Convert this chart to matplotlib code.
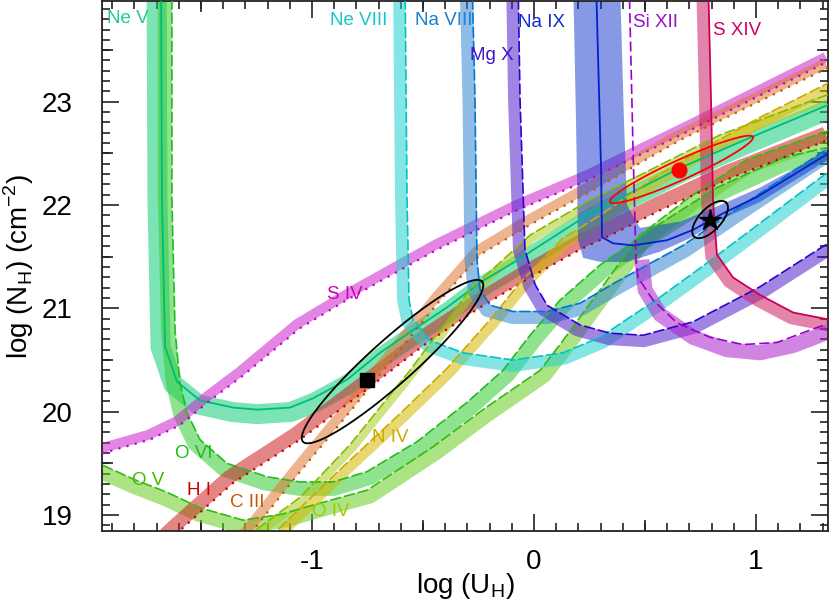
import numpy as np
import matplotlib
matplotlib.use('Agg')
import matplotlib.pyplot as plt
from matplotlib.ticker import MultipleLocator

plt.rcParams['font.family'] = ['Liberation Sans', 'DejaVu Sans']
plt.rcParams['axes.unicode_minus'] = False
plt.rcParams['mathtext.fontset'] = 'custom'
plt.rcParams['mathtext.rm'] = 'Liberation Sans'

# ---- curves: log U_H vs log N_H (line on one edge of each band) ----
ne5_u = [-1.680, -1.676, -1.662, -1.608, -1.505, -1.356, -1.248, -1.099, -0.995, -0.842,
         -0.694, -0.545, -0.392, -0.243, -0.095, 0.252, 0.658, 0.959, 1.324]
ne5_n = [24.18, 22.05, 20.63, 20.29, 20.11, 20.04, 20.02, 20.04, 20.13, 20.31,
         20.57, 20.79, 21.01, 21.25, 21.44, 21.92, 22.36, 22.64, 22.97]

o6_u = [-1.631, -1.631, -1.617, -1.595, -1.563, -1.505, -1.383, -1.203, -1.054, -0.905, -0.752,
        -0.527, -0.302, -0.140, -0.018, 0.117, 0.297, 0.523, 0.824, 1.122, 1.324]
o6_n = [24.18, 22.05, 20.79, 20.28, 19.99, 19.73, 19.50, 19.37, 19.32, 19.32, 19.42,
        19.71, 20.09, 20.40, 20.74, 21.08, 21.42, 21.76, 22.17, 22.46, 22.56]

o5_u = [-1.941, -1.797, -1.653, -1.505, -1.311, -1.131, -1.054, -0.905, -0.752, -0.455,
        -0.230, 0.027, 0.117, 0.297, 0.477, 0.703, 0.959, 1.324]
o5_n = [19.48, 19.34, 19.22, 19.07, 18.95, 19.01, 19.06, 19.15, 19.24, 19.66,
        20.02, 20.40, 20.65, 21.18, 21.71, 22.08, 22.44, 22.72]

h1_u = [-1.640, -1.595, -1.356, -1.054, -0.739, -0.468, -0.243, -0.018, 0.207, 0.374,
        0.568, 0.883, 1.324]
h1_n = [18.76, 18.85, 19.31, 19.73, 20.24, 20.69, 21.01, 21.30, 21.57, 21.74,
        21.95, 22.26, 22.63]

c3_u = [-1.324, -1.266, -1.054, -0.829, -0.604, -0.423, -0.243, -0.018, 0.252, 0.658, 0.973, 1.324]
c3_n = [18.71, 18.85, 19.42, 20.00, 20.60, 21.08, 21.52, 21.81, 22.13, 22.63, 22.96, 23.33]

s4_u = [-1.941, -1.730, -1.595, -1.459, -1.311, -1.054, -0.829, -0.437, -0.077, 0.252, 0.689, 1.324]
s4_n = [19.60, 19.73, 19.87, 20.11, 20.35, 20.81, 21.10, 21.57, 21.95, 22.25, 22.71, 23.39]

n4_u = [-1.189, -1.158, -0.874, -0.604, -0.392, -0.198, -0.063, 0.131, 0.297, 0.523, 0.748, 1.018, 1.324]
n4_n = [18.76, 18.85, 19.44, 19.98, 20.42, 20.89, 21.25, 21.68, 21.90, 22.24, 22.53, 22.85, 23.18]

o4_u = [-1.288, -1.257, -1.054, -0.829, -0.559, -0.288, -0.018, 0.252, 0.523, 0.838, 1.324]
o4_n = [18.76, 18.85, 19.17, 19.68, 20.40, 21.18, 21.71, 22.05, 22.34, 22.68, 23.07]

ne8_u = [-0.581, -0.572, -0.563, -0.545, -0.468, -0.320, -0.095, 0.131, 0.297, 0.568, 0.748, 0.959, 1.324]
ne8_n = [24.18, 22.05, 21.08, 20.89, 20.69, 20.57, 20.50, 20.57, 20.72, 21.11, 21.39, 21.73, 22.32]

na8_u = [-0.279, -0.266, -0.257, -0.243, -0.198, -0.095, 0.059, 0.207, 0.374, 0.671, 0.973, 1.324]
na8_n = [24.18, 23.02, 21.47, 21.18, 21.03, 20.97, 20.97, 21.05, 21.26, 21.61, 22.05, 22.55]

mg10_u = [-0.072, -0.063, -0.041, 0.005, 0.059, 0.207, 0.342, 0.491, 0.716, 1.018, 1.324]
mg10_n = [24.18, 23.02, 21.57, 21.23, 21.03, 20.84, 20.76, 20.74, 20.87, 21.21, 21.63]

na9_u = [0.279, 0.302, 0.306, 0.356, 0.446, 0.599, 0.716, 0.851, 1.005, 1.333]
na9_n = [24.18, 22.34, 21.69, 21.63, 21.61, 21.66, 21.76, 21.92, 22.08, 22.51]
na9_band_u = [0.387, 0.405, 0.419, 0.477, 0.658, 0.838, 1.018, 1.324, 1.324, 1.018, 0.838,
              0.703, 0.568, 0.419, 0.297, 0.221, 0.198, 0.189, 0.176]
na9_band_n = [24.18, 22.82, 22.00, 21.78, 21.84, 22.00, 22.17, 22.53, 22.44, 22.03, 21.86,
              21.68, 21.55, 21.45, 21.45, 21.49, 21.66, 22.82, 24.18]

si12_u = [0.428, 0.446, 0.459, 0.468, 0.536, 0.644, 0.793, 0.941, 1.095, 1.243, 1.333]
si12_n = [24.18, 22.53, 21.47, 21.30, 21.08, 20.86, 20.72, 20.65, 20.67, 20.79, 20.86]
si12_band_u = [0.486, 0.500, 0.568, 0.716, 0.869, 1.018, 1.167, 1.324]
si12_band_n = [21.47, 21.18, 20.94, 20.72, 20.60, 20.57, 20.64, 20.77]

s14_u = [0.784, 0.797, 0.806, 0.815, 0.824, 0.896, 1.018, 1.167, 1.333]
s14_n = [24.18, 23.02, 22.05, 21.76, 21.52, 21.30, 21.13, 20.96, 20.89]

# observed components and their error contours
comp_u = [-0.752, 0.653, 0.793]
comp_n = [20.31, 22.34, 21.86]
ell_center = [(-0.6375, 20.485), (0.664, 22.345), (0.793, 21.86)]
ell_major = [(0.4035, 0.775), (0.322, 0.315), (0.072, 0.165)]
ell_minor = [(0.066, -0.159), (0.0187, -0.088), (0.036, -0.073)]
ell_colors = ['black', 'red', 'black']

labels = ['Ne V', 'Ne VIII', 'Na VIII', 'Mg X', 'Na IX', 'Si XII', 'S XIV',
          'S IV', 'O VI', 'O V', 'H I', 'C III', 'O IV', 'N IV']
label_u = [-1.923, -0.919, -0.536, -0.288, -0.072, 0.446, 0.806,
           -0.932, -1.617, -1.811, -1.563, -1.369, -1.0, -0.730]
label_n = [23.81, 23.79, 23.79, 23.45, 23.77, 23.77, 23.69,
           21.13, 19.60, 19.33, 19.24, 19.12, 19.03, 19.75]
label_colors = ['#22cc88', '#11c8c8', '#1a80d0', '#4411cc', '#0a2fd0', '#9911cc', '#cc0066',
                '#cc00bb', '#22bb22', '#44bb00', '#cc0000', '#cc5500', '#99cc00', '#ccaa00']

DOT = (0, (0.01, 3.2))
DASH = (0, (6, 2.5))
# u, n, line color, band color, linestyle, line width, band offset (px), band width (px)
ions = [
    (ne5_u, ne5_n, '#00bb77', '#11cc77', '-', 1.3, 4.5, 20),
    (o6_u, o6_n, '#22bb22', '#33cc33', DASH, 1.2, 7, 14),
    (o5_u, o5_n, '#33bb11', '#66cc22', DASH, 1.2, 7, 14),
    (s4_u, s4_n, '#cc00cc', '#cc22cc', DOT, 1.9, -5, 10),
    (h1_u, h1_n, '#cc0000', '#cc2222', DOT, 1.9, -7, 14),
    (c3_u, c3_n, '#cc5500', '#dd7733', DOT, 1.9, -5, 10),
    (o4_u, o4_n, '#88bb00', '#aacc22', DASH, 1.2, 4, 8),
    (n4_u, n4_n, '#ccaa00', '#d4b800', DASH, 1.2, 5, 10),
    (ne8_u, ne8_n, '#00c4c4', '#22d0d0', DASH, 1.2, 6, 12),
    (na8_u, na8_n, '#0077cc', '#3388d0', DASH, 1.2, 6, 13),
    (mg10_u, mg10_n, '#3300cc', '#5522cc', DASH, 1.2, 6, 12),
    (s14_u, s14_n, '#cc0055', '#cc2266', '-', 1.3, 6, 12),
]


def shifted(ax, x, y, d):
    pts = ax.transData.transform(np.column_stack([x, y]))
    t = np.gradient(pts, axis=0)
    t = t / np.hypot(t[:, 0], t[:, 1])[:, None]
    nrm = np.column_stack([t[:, 1], -t[:, 0]])
    return ax.transData.inverted().transform(pts + d * nrm)


fig = plt.figure(figsize=(8.3, 6.01), dpi=100)
ax = fig.add_axes([102 / 830, 1 - 531 / 601, 726 / 830, 530 / 601])
ax.set_xlim(-1.946, 1.324)
ax.set_ylim(18.845, 23.976)

px = 0.72  # points per pixel at 100 dpi
for u, n, lc, bc, ls, lw, off, bw in ions:
    b = shifted(ax, u, n, off)
    ax.plot(b[:, 0], b[:, 1], color=bc, alpha=0.55, lw=bw * px,
            solid_capstyle='butt', solid_joinstyle='round', zorder=2)
ax.fill(na9_band_u, na9_band_n, color='#1133cc', alpha=0.5, lw=0, zorder=2)
ax.plot(si12_band_u, si12_band_n, color='#aa22cc', alpha=0.55, lw=15 * px,
        solid_capstyle='butt', solid_joinstyle='round', zorder=2)

for u, n, lc, bc, ls, lw, off, bw in ions:
    ax.plot(u, n, color=lc, ls=ls, lw=lw, dash_capstyle='round', zorder=3)
ax.plot(na9_u, na9_n, color='#0022cc', lw=1.3, zorder=3)
ax.plot(si12_u, si12_n, color='#9900cc', ls=DASH, lw=1.2, zorder=3)

t = np.linspace(0, 2 * np.pi, 300)
for c, m, mi, col in zip(ell_center, ell_major, ell_minor, ell_colors):
    ax.plot(c[0] + m[0] * np.cos(t) + mi[0] * np.sin(t),
            c[1] + m[1] * np.cos(t) + mi[1] * np.sin(t), color=col, lw=1.3, zorder=4)

ax.plot(comp_u[0], comp_n[0], 's', color='black', ms=10, zorder=5)
ax.plot(comp_u[1], comp_n[1], 'o', color='red', ms=10.5, zorder=5)
ax.plot(comp_u[2], comp_n[2], '*', color='black', ms=16, zorder=5)

for s, u, n, col in zip(labels, label_u, label_n, label_colors):
    ax.text(u, n, s, color=col, fontsize=13.5, ha='left', va='center', zorder=6)

ax.set_xlabel(r'log (U$_\mathregular{H}$)', fontsize=20, labelpad=-3)
ax.set_ylabel(r'log (N$_\mathregular{H}$) (cm$^\mathregular{-2}$)', fontsize=20, labelpad=4)

ax.xaxis.set_major_locator(MultipleLocator(1))
ax.yaxis.set_major_locator(MultipleLocator(1))
ax.xaxis.set_minor_locator(MultipleLocator(0.1))
ax.yaxis.set_minor_locator(MultipleLocator(0.1))
ax.tick_params(which='both', direction='in', top=True, right=True, color='#222222', width=1.2)
ax.tick_params(which='major', length=12)
ax.tick_params(which='minor', length=5.5)
ax.tick_params(axis='x', which='major', labelsize=20, pad=13)
ax.tick_params(axis='y', which='major', labelsize=20, pad=21)
for sp in ax.spines.values():
    sp.set_linewidth(1.3)
    sp.set_color('#222222')

# half-unit ticks are a little longer than the minor ones
for loc in ['bottom', 'top']:
    sec = ax.secondary_xaxis(loc)
    sec.set_xticks([-1.5, -0.5, 0.5])
    sec.tick_params(direction='in', length=8, width=1.2, color='#222222',
                    labelbottom=False, labeltop=False)
    sec.spines[:].set_visible(False)
for loc in ['left', 'right']:
    sec = ax.secondary_yaxis(loc)
    sec.set_yticks([19.5, 20.5, 21.5, 22.5, 23.5])
    sec.tick_params(direction='in', length=8, width=1.2, color='#222222',
                    labelleft=False, labelright=False)
    sec.spines[:].set_visible(False)

fig.savefig('out.png', dpi=100)
